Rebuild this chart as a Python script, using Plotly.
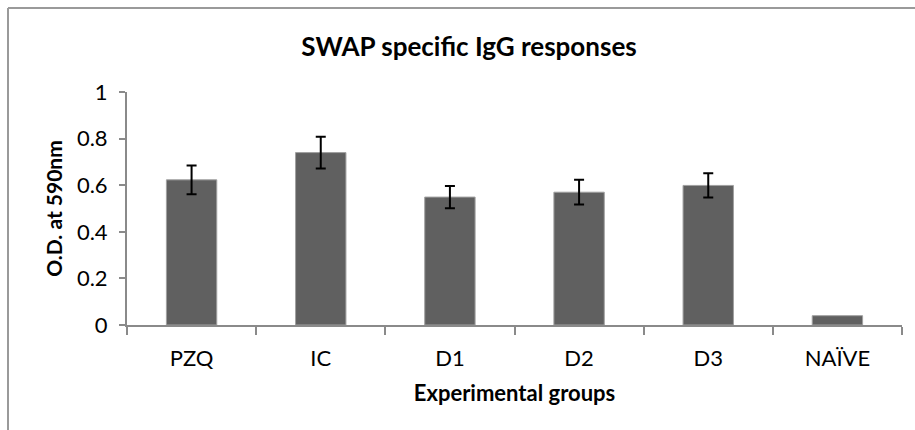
import plotly.graph_objects as go

# ---- data ----
groups = ["PZQ", "IC", "D1", "D2", "D3", "NAÏVE"]
od_values = [0.623, 0.740, 0.549, 0.570, 0.599, 0.040]
od_errors = [0.062, 0.068, 0.048, 0.053, 0.052, None]
y_ticks = [0, 0.2, 0.4, 0.6, 0.8, 1]

# ---- layout geometry (pixels) ----
W, H = 915, 430
ML, MR, MT, MB = 127, 13, 92, 105
PW, PH = W - ML - MR, H - MT - MB

def px_to_paper_x(px):
    return (px - ML) / PW

def px_to_paper_y(py):
    return (H - MB - py) / PH

FONT = "Lato, 'Open Sans', sans-serif"
AXIS_GRAY = "#8a8a8a"
BORDER_GRAY = "#9a9a9a"

fig = go.Figure(
    go.Bar(
        x=groups,
        y=od_values,
        marker=dict(color="#606060", line=dict(color="#a0a0a0", width=1)),
        showlegend=False,
        hoverinfo="x+y",
    )
)

# error bars only for groups that have one
err_idx = [i for i, e in enumerate(od_errors) if e is not None]
fig.add_trace(go.Scatter(
    x=[groups[i] for i in err_idx],
    y=[od_values[i] for i in err_idx],
    mode="markers",
    marker=dict(opacity=0, size=1),
    error_y=dict(type="data", array=[od_errors[i] for i in err_idx],
                 visible=True, color="black", thickness=2, width=5),
    showlegend=False, hoverinfo="skip",
))

# chart-area border: only left and top edges are visible in the frame
border_x, border_top = 8, 8
fig.update_layout(
    width=W, height=H,
    margin=dict(l=ML, r=MR, t=MT, b=MB, autoexpand=False),
    paper_bgcolor="white", plot_bgcolor="white",
    bargap=0.61,
    font=dict(family=FONT, color="black", size=22),
    title=dict(
        text="<b>SWAP specific IgG responses</b>",
        font=dict(family=FONT, size=26, color="black"),
        x=px_to_paper_x(469), xref="paper", xanchor="center",
        y=1 - 47 / H, yref="container", yanchor="middle",
    ),
    xaxis=dict(
        showline=True, linecolor=AXIS_GRAY, linewidth=2,
        ticks="outside", tickson="boundaries", ticklen=8,
        tickcolor=AXIS_GRAY, tickwidth=1.5,
        tickfont=dict(family=FONT, size=22),
        ticklabelstandoff=13,
        showgrid=False,
        title=dict(text="<b>Experimental groups</b>",
                   font=dict(family=FONT, size=22), standoff=15),
    ),
    yaxis=dict(
        range=[0, 1], tickvals=y_ticks, ticktext=[f"{v:g}" for v in y_ticks],
        showline=True, linecolor=AXIS_GRAY, linewidth=2,
        ticks="outside", ticklen=6, tickcolor=AXIS_GRAY, tickwidth=1.5,
        tickfont=dict(family=FONT, size=22),
        ticklabelstandoff=7,
        showgrid=False, zeroline=False,
        title=dict(text="<b>O.D. at 590nm</b>",
                   font=dict(family=FONT, size=21), standoff=9),
    ),
    shapes=[
        dict(type="line", xref="paper", yref="paper",
             x0=px_to_paper_x(border_x), x1=px_to_paper_x(border_x),
             y0=px_to_paper_y(H), y1=px_to_paper_y(border_top),
             line=dict(color=BORDER_GRAY, width=2), layer="below"),
        dict(type="line", xref="paper", yref="paper",
             x0=px_to_paper_x(border_x), x1=px_to_paper_x(W),
             y0=px_to_paper_y(border_top), y1=px_to_paper_y(border_top),
             line=dict(color=BORDER_GRAY, width=2), layer="below"),
    ],
)

fig.write_html("out.html",
               config={"displayModeBar": False},
               post_script="document.body.style.margin='0';"
                           "document.body.style.overflow='hidden';")
